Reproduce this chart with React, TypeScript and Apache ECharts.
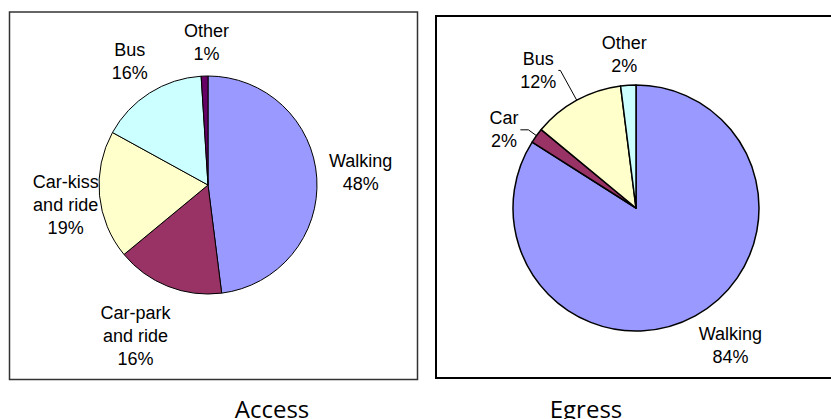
import React, { useEffect, useRef } from 'react';
import * as echarts from 'echarts';

// ---- data ----
const accessCategories = ['Walking', 'Car-park\nand ride', 'Car-kiss\nand ride', 'Bus', 'Other'];
const accessValues = [48, 16, 19, 16, 1];
const egressCategories = ['Walking', 'Car', 'Bus', 'Other'];
const egressValues = [84, 2, 12, 2];
const panelTitles = ['Access', 'Egress'];

// ---- styles ----
const accessColors = ['#9999FF', '#993366', '#FFFFCC', '#CCFFFF', '#660066'];
const egressColors = ['#9999FF', '#993366', '#FFFFCC', '#CCFFFF'];

const ACCESS_CENTER = [208, 185];
const ACCESS_R = 109;
const EGRESS_CENTER = [636, 208];
const EGRESS_R = 123;

type LabelStyle = { len: number; len2: number; dist: number; line: boolean; dx: number; dy: number };
const accessLabelStyles: LabelStyle[] = [
  { len: 44, len2: 0, dist: 0, line: false, dx: 0, dy: -3 },
  { len: 58, len2: 0, dist: 0, line: false, dx: -11, dy: -4 },
  { len: 35, len2: 0, dist: 0, line: false, dx: 1, dy: 6 },
  { len: 37, len2: 0, dist: 0, line: false, dx: 0, dy: 0 },
  { len: 34, len2: 0, dist: 0, line: false, dx: 3, dy: 0 },
];
const egressLabelStyles: LabelStyle[] = [
  { len: 44, len2: 0, dist: 0, line: false, dx: 14, dy: -9 },
  { len: 10, len2: 8, dist: 2, line: true, dx: 0, dy: 0 },
  { len: 34, len2: 2, dist: 2, line: true, dx: 0, dy: 0 },
  { len: 31, len2: 0, dist: 0, line: false, dx: -2, dy: 0 },
];

const FONT = '"Liberation Sans", Arial, sans-serif';

function buildData(names: string[], values: number[], colors: string[], styles: LabelStyle[]) {
  return names.map((name, i) => ({
    name,
    value: values[i],
    itemStyle: { color: colors[i] },
    label: { distanceToLabelLine: styles[i].dist },
    labelLine: { show: styles[i].line, length: styles[i].len, length2: styles[i].len2 },
  }));
}

function makeLayout(styles: LabelStyle[], centerX: number) {
  return (p: any) => {
    const s = styles[p.dataIndex];
    const r = p.labelRect;
    const mid = r.x + r.width / 2;
    let x: number;
    if (s.line) {
      x = mid;
    } else {
      const leftAligned = mid > centerX;
      x = leftAligned ? r.x : r.x + r.width;
    }
    const out: any = {
      x: x + s.dx,
      y: r.y + r.height / 2 + s.dy,
      align: 'center',
      verticalAlign: 'middle',
    };
    if (s.line) out.labelLinePoints = p.labelLinePoints;
    return out;
  };
}

function pieSeries(
  names: string[],
  values: number[],
  colors: string[],
  styles: LabelStyle[],
  center: number[],
  radius: number,
  borderWidth: number
) {
  return {
    type: 'pie',
    center,
    radius,
    startAngle: 90,
    clockwise: true,
    avoidLabelOverlap: false,
    emphasis: { disabled: true },
    itemStyle: { borderColor: '#000', borderWidth },
    label: {
      show: true,
      position: 'outside',
      alignTo: 'none',
      formatter: (p: any) => `${p.name}\n${p.value}%`,
      fontFamily: FONT,
      fontSize: 18,
      lineHeight: 23,
      color: '#000',
    },
    labelLine: {
      show: false,
      smooth: false,
      lineStyle: { color: '#000', width: 1 },
    },
    labelLayout: makeLayout(styles, center[0]),
    data: buildData(names, values, colors, styles),
  };
}

export default function App() {
  const ref = useRef<HTMLDivElement>(null);
  useEffect(() => {
    if (!ref.current) return;
    const chart = echarts.init(ref.current, null, { renderer: 'svg' });
    chart.setOption({
      animation: false,
      backgroundColor: '#fff',
      graphic: [
        {
          type: 'rect',
          shape: { x: 9.5, y: 12, width: 408, height: 367.5 },
          style: { fill: 'none', stroke: '#333', lineWidth: 1.5 },
          silent: true,
        },
        {
          type: 'rect',
          shape: { x: 436, y: 16, width: 500, height: 362 },
          style: { fill: 'none', stroke: '#000', lineWidth: 2 },
          silent: true,
        },
        {
          type: 'text',
          x: 272,
          y: 408,
          style: {
            text: panelTitles[0],
            fontFamily: '"Open Sans", sans-serif',
            fontSize: 24,
            fill: '#000',
            align: 'center',
            verticalAlign: 'middle',
          },
          silent: true,
        },
        {
          type: 'text',
          x: 586,
          y: 408,
          style: {
            text: panelTitles[1],
            fontFamily: '"Open Sans", sans-serif',
            fontSize: 24,
            fill: '#000',
            align: 'center',
            verticalAlign: 'middle',
          },
          silent: true,
        },
      ],
      series: [
        pieSeries(accessCategories, accessValues, accessColors, accessLabelStyles, ACCESS_CENTER, ACCESS_R, 1),
        pieSeries(egressCategories, egressValues, egressColors, egressLabelStyles, EGRESS_CENTER, EGRESS_R, 1.5),
      ],
    });
    return () => chart.dispose();
  }, []);
  return (
    <div
      ref={ref}
      style={{ position: 'absolute', left: 0, top: 0, width: 831, height: 419 }}
    />
  );
}
